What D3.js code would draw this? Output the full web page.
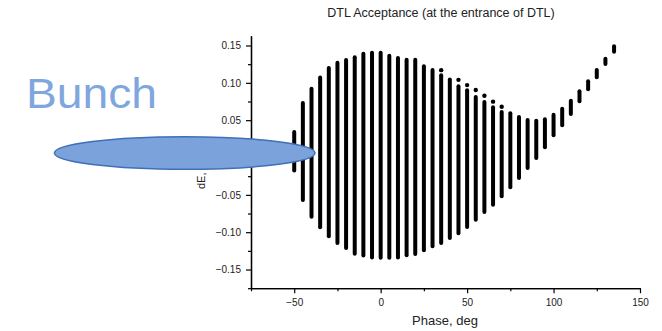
<!DOCTYPE html>
<html>
<head>
<meta charset="utf-8">
<script src="https://cdn.jsdelivr.net/npm/d3@7"></script>
<style>
  html, body { margin: 0; padding: 0; background: #fff; }
  svg { display: block; }
</style>
</head>
<body>
<svg id="chart" width="662" height="331"></svg>
<script>
// Phase of each scanned column, deg
const phases = [-50, -45, -40, -35, -30, -25, -20, -15, -10, -5, 0, 5, 10, 15, 20, 25, 30, 35, 40,
  45, 50, 55, 60, 65, 70, 75, 80, 85, 90, 95, 100, 105, 110, 115, 120, 125, 130, 135];
// Upper edge of accepted dE at each phase, MeV
const dEMax = [0.037, 0.0757, 0.0948, 0.110, 0.1225, 0.1297, 0.1333, 0.137, 0.1417, 0.143, 0.143,
  0.139, 0.136, 0.1337, 0.1337, 0.1248, 0.1199, 0.1127, 0.107, 0.098, 0.0926, 0.0837, 0.077, 0.070,
  0.0635, 0.062, 0.057, 0.053, 0.052, 0.054, 0.060, 0.068, 0.0788, 0.0913, 0.1047, 0.120, 0.135, 0.1516];
// Lower edge of accepted dE at each phase, MeV
const dEMin = [-0.020, -0.0596, -0.082, -0.096, -0.108, -0.117, -0.124, -0.1315, -0.134, -0.1364,
  -0.137, -0.137, -0.1364, -0.1337, -0.1318, -0.127, -0.1216, -0.117, -0.1105, -0.104, -0.0958,
  -0.086, -0.0757, -0.066, -0.0547, -0.0426, -0.030, -0.0167, -0.0033, 0.011, 0.027, 0.0404,
  0.0556, 0.0726, 0.0887, 0.1047, 0.1225, 0.139];
// Isolated accepted points just above a column
const islandPhase = [35, 45, 50, 55, 60, 65, 70];
const islandDE = [0.117, 0.104, 0.097, 0.0904, 0.0828, 0.0748, 0.068];

const xMajor = [-50, 0, 50, 100, 150];
const xMinor = [-75, -25, 25, 75, 125];
const yMajor = [-0.15, -0.10, -0.05, 0.00, 0.05, 0.10, 0.15];
const yMinor = [-0.175, -0.125, -0.075, -0.025, 0.025, 0.075, 0.125];

const titleText = "DTL Acceptance (at the entrance of DTL)";
const xTitle = "Phase, deg";
const yTitle = "dE, MeV";
const bunchLabel = "Bunch";

const svg = d3.select("#chart");
const font = "'Liberation Sans', Arial, sans-serif";

const x = d3.scaleLinear().domain([-75, 150]).range([251, 640]);
const y = d3.scaleLinear().domain([-0.175, 0.163]).range([288.2, 35.8]);

const ink = "#000";

// acceptance columns
const cols = phases.map((p, i) => ({ p, hi: dEMax[i], lo: dEMin[i] }));
svg.append("g").selectAll("rect").data(cols).join("rect")
  .attr("x", d => x(d.p) - 2)
  .attr("width", 4)
  .attr("y", d => y(d.hi))
  .attr("height", d => y(d.lo) - y(d.hi))
  .attr("rx", 2).attr("ry", 2)
  .attr("fill", ink);

svg.append("g").selectAll("circle").data(islandPhase.map((p, i) => ({ p, v: islandDE[i] }))).join("circle")
  .attr("cx", d => x(d.p))
  .attr("cy", d => y(d.v))
  .attr("r", 2.2)
  .attr("fill", ink);

// axes
const xAxis = d3.axisBottom(x).tickValues(xMajor).tickSize(5).tickSizeOuter(0)
  .tickFormat(d3.format("d"));
const xAxisMinor = d3.axisBottom(x).tickValues(xMinor).tickSize(3).tickSizeOuter(0).tickFormat("");
const yAxis = d3.axisLeft(y).tickValues(yMajor).tickSize(5).tickSizeOuter(0)
  .tickFormat(d3.format(".2f"));
const yAxisMinor = d3.axisLeft(y).tickValues(yMinor).tickSize(3).tickSizeOuter(0).tickFormat("");

function style(g) {
  g.select(".domain").attr("stroke", ink).attr("stroke-width", 1.3);
  g.selectAll(".tick line").attr("stroke", ink).attr("stroke-width", 1.2);
  g.selectAll(".tick text").attr("fill", "#222").attr("font-family", font).attr("font-size", 10);
}

svg.append("g").attr("transform", `translate(0,${y(-0.175)})`).call(xAxisMinor).call(style);
svg.append("g").attr("transform", `translate(0,${y(-0.175)})`).call(xAxis).call(style)
  .selectAll(".tick text").attr("dy", "0.95em");
svg.append("g").attr("transform", `translate(${x(-75)},0)`).call(yAxisMinor).call(style);
svg.append("g").attr("transform", `translate(${x(-75)},0)`).call(yAxis).call(style)
  .selectAll(".tick text").attr("dx", "-0.2em");

// titles
svg.append("text").attr("x", 441).attr("y", 17).attr("text-anchor", "middle")
  .attr("font-family", font).attr("font-size", 12.5).attr("fill", "#222").text(titleText);
svg.append("text").attr("x", 445).attr("y", 325).attr("text-anchor", "middle")
  .attr("font-family", font).attr("font-size", 13).attr("fill", "#222").text(xTitle);
svg.append("text").attr("transform", "translate(205,189) rotate(-90)")
  .attr("font-family", font).attr("font-size", 11).attr("fill", "#222").text(yTitle);

// bunch sketch overlay
svg.append("ellipse").attr("cx", 184.7).attr("cy", 153).attr("rx", 130.3).attr("ry", 16.3)
  .attr("fill", "#7BA2DB").attr("stroke", "#3F70B8").attr("stroke-width", 1.5);
svg.append("text").attr("x", 26).attr("y", 108)
  .attr("font-family", font).attr("font-size", 43).attr("fill", "#7FA7DE")
  .attr("textLength", 131).attr("lengthAdjust", "spacingAndGlyphs").text(bunchLabel);
</script>
</body>
</html>
